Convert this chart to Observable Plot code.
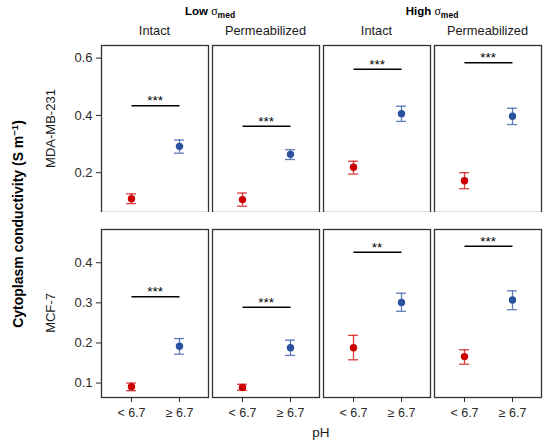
<!DOCTYPE html>
<html><head><meta charset="utf-8">
<script src="https://cdn.jsdelivr.net/npm/d3@7"></script>
<script src="https://cdn.jsdelivr.net/npm/@observablehq/plot@0.6"></script>
<style>
body{margin:0;background:#fff;font-family:"Liberation Sans",Arial,sans-serif;}
#wrap{position:relative;width:550px;height:447px;overflow:hidden;}
#wrap svg{position:absolute;left:0;}
</style></head><body><div id="wrap"></div>
<script>
const panels = ["Low|Intact","Low|Permeabilized","High|Intact","High|Permeabilized"];
const groups = ["Low","High"];
const phLevels = ["< 6.7","≥ 6.7"];
const cellLines = ["MDA-MB-231","MCF-7"];
// [panel][pH] : mean, lower and upper error bound
const mdaMean = [[0.109,0.292],[0.106,0.264],[0.219,0.406],[0.172,0.397]];
const mdaLow  = [[0.092,0.268],[0.083,0.246],[0.195,0.379],[0.144,0.368]];
const mdaHigh = [[0.126,0.314],[0.129,0.280],[0.240,0.432],[0.200,0.425]];
const mcfMean = [[0.091,0.192],[0.089,0.188],[0.188,0.301],[0.166,0.307]];
const mcfLow  = [[0.081,0.172],[0.082,0.169],[0.158,0.279],[0.147,0.283]];
const mcfHigh = [[0.100,0.211],[0.097,0.207],[0.219,0.324],[0.183,0.330]];
const mdaSig = [0.434,0.362,0.561,0.584];
const mcfSig = [0.315,0.289,0.426,0.441];
const mdaStars = ["***","***","***","***"];
const mcfStars = ["***","***","**","***"];
const mdaTicks = [0.2,0.4,0.6];
const mcfTicks = [0.1,0.2,0.3,0.4];
const mdaDomain = [0.061,0.644];
const mcfDomain = [0.064,0.483];

const FONT = '"Liberation Sans", Arial, Helvetica, sans-serif';
const wrap = document.getElementById("wrap");

function panelPlot(o) {
  const pts = [];
  panels.forEach((p,i)=>phLevels.forEach((ph,j)=>pts.push({panel:p, ph, m:o.mean[i][j], lo:o.lo[i][j], hi:o.hi[i][j]})));
  const sigs = panels.map((p,i)=>({panel:p, y:o.sig[i], s:o.stars[i]}));
  return Plot.plot({
    width:550, height:o.height, marginLeft:100, marginRight:7, marginTop:o.marginTop, marginBottom:o.marginBottom,
    style:{fontFamily:FONT, fontSize:"13px", color:"#2a2a2a", background:"transparent"},
    fx:{domain:panels, padding:0.033, axis:null},
    x:{domain:phLevels, type:"band", paddingInner:0.8, paddingOuter:0.502},
    y:{domain:o.domain},
    color:{domain:phLevels, range:["#CC0000","#2B52A0"]},
    marks:[
      Plot.frame({stroke:"#333", strokeWidth:1.3}),
      Plot.ruleX(pts, {fx:"panel", x:"ph", y1:"lo", y2:"hi", stroke:"ph", strokeOpacity:0.75, strokeWidth:1.3}),
      Plot.tickY(pts, {fx:"panel", x:"ph", y:"lo", stroke:"ph", strokeOpacity:0.75, strokeWidth:1.3}),
      Plot.tickY(pts, {fx:"panel", x:"ph", y:"hi", stroke:"ph", strokeOpacity:0.75, strokeWidth:1.3}),
      Plot.dot(pts, {fx:"panel", x:"ph", y:"m", fill:"ph", r:3.7}),
      Plot.link(sigs, {fx:"panel", x1:()=>phLevels[0], x2:()=>phLevels[1], y1:"y", y2:"y", stroke:"#000", strokeWidth:1.5}),
      Plot.text(sigs, {fx:"panel", y:"y", text:"s", lineAnchor:"bottom", dy:-0.5, fontSize:13.5, fill:"#000"}),
      Plot.axisY({ticks:o.ticks, tickFormat:".1f", tickSize:5, tickPadding:4, label:null, facetAnchor:"left", fontSize:13}),
      o.bottom ? Plot.axisX({tickSize:5, tickPadding:6, label:null, fontSize:12.5, facetAnchor:"bottom"}) : Plot.axisX({ticks:[], label:null})
    ]
  });
}

const topPlot = panelPlot({mean:mdaMean, lo:mdaLow, hi:mdaHigh, sig:mdaSig, stars:mdaStars, ticks:mdaTicks, domain:mdaDomain,
  height:212, marginTop:45, marginBottom:0, bottom:false});
topPlot.style.top = "0px";
wrap.appendChild(topPlot);
const botPlot = panelPlot({mean:mcfMean, lo:mcfLow, hi:mcfHigh, sig:mcfSig, stars:mcfStars, ticks:mcfTicks, domain:mcfDomain,
  height:235, marginTop:17, marginBottom:50, bottom:true});
botPlot.style.top = "212px";
wrap.appendChild(botPlot);

// overlay annotations
const fxs = topPlot.scale("fx");
const bw = fxs.bandwidth;
const svg = d3.select(wrap).append("svg").attr("width",550).attr("height",447)
  .style("top","0px").style("font-family",FONT).style("pointer-events","none");

panels.forEach(p=>{
  svg.append("text").attr("x", fxs.apply(p)+bw/2).attr("y", 34.5).attr("text-anchor","middle")
    .attr("font-size",12.8).attr("fill","#1a1a1a").text(p.split("|")[1]);
});
groups.forEach((g,k)=>{
  const a = fxs.apply(panels[2*k]), b = fxs.apply(panels[2*k+1])+bw;
  const t = svg.append("text").attr("x",(a+b)/2).attr("y",15).attr("text-anchor","middle")
    .attr("font-size",11.5).attr("font-weight","bold").attr("fill","#000");
  t.append("tspan").text(g+" ");
  t.append("tspan").attr("font-family",'"Liberation Serif", serif').attr("font-weight","normal").attr("font-size",12).text("σ");
  t.append("tspan").attr("font-size",8.5).attr("dy",2.5).text("med");
});
const rowCenters = [128.5, 313];
cellLines.forEach((c,i)=>{
  svg.append("text").attr("transform",`translate(55,${rowCenters[i]}) rotate(-90)`).attr("text-anchor","middle")
    .attr("font-size",13).attr("fill","#1a1a1a").text(c);
});
const yt = svg.append("text").attr("transform","translate(23,224) rotate(-90)").attr("text-anchor","middle")
  .attr("font-size",14).attr("font-weight","bold").attr("fill","#000");
yt.append("tspan").text("Cytoplasm conductivity (S m");
yt.append("tspan").attr("font-size",9.5).attr("dy",-5.5).text("−1");
yt.append("tspan").attr("dy",5.5).text(")");
svg.append("text").attr("x",(fxs.apply(panels[0])+fxs.apply(panels[3])+bw)/2).attr("y",436.5).attr("text-anchor","middle")
  .attr("font-size",13.5).attr("fill","#1a1a1a").text("pH");
</script></body></html>
